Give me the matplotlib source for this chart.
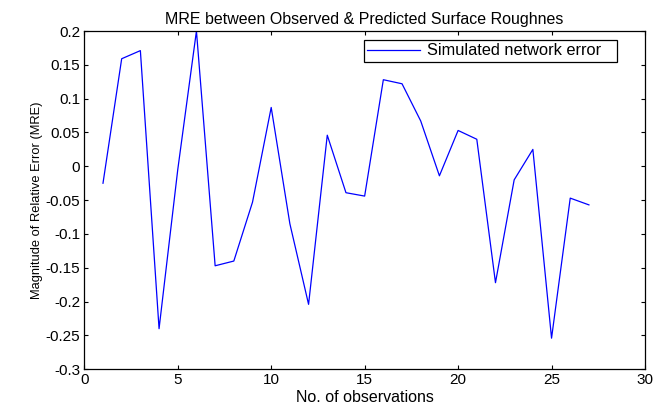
import matplotlib.pyplot as plt

# ── Data ──────────────────────────────────────────────────────────────────────

obs = list(range(1, 28))
mre = [-0.025, 0.159, 0.171, -0.240, -0.005, 0.200, -0.147, -0.140, -0.053,
       0.087, -0.085, -0.204, 0.046, -0.039, -0.044, 0.128, 0.122, 0.067,
       -0.014, 0.053, 0.040, -0.172, -0.020, 0.025, -0.254, -0.047, -0.057]

y_ticks = [-0.3, -0.25, -0.2, -0.15, -0.1, -0.05, 0, 0.05, 0.1, 0.15, 0.2]
y_labels = ["-0.3", "-0.25", "-0.2", "-0.15", "-0.1", "-0.05", "0",
            "0.05", "0.1", "0.15", "0.2"]

plt.rcParams["font.family"] = ["Liberation Sans", "DejaVu Sans"]

# ── Figure ────────────────────────────────────────────────────────────────────

fig = plt.figure(figsize=(6.67, 4.05), dpi=100)
ax = fig.add_axes([84.3 / 667, 1 - 369.3 / 405, (645 - 84.3) / 667, (369.3 - 31) / 405])

ax.plot(obs, mre, color="#0000ff", lw=0.9, label="Simulated network error")

ax.set_xlim(0, 30)
ax.set_ylim(-0.3, 0.2)
ax.set_xticks(range(0, 31, 5))
ax.set_yticks(y_ticks)
ax.set_yticklabels(y_labels)
ax.tick_params(direction="in", top=True, right=True, length=3, width=0.8,
               labelsize=11, pad=3)
for sp in ax.spines.values():
    sp.set_linewidth(0.9)

ax.set_title("MRE between Observed & Predicted Surface Roughnes", fontsize=11.5, pad=5)
ax.set_xlabel("No. of observations", fontsize=11.5, labelpad=2)
ax.set_ylabel("Magnitude of Relative Error (MRE)", fontsize=9.3, labelpad=2)

# legend box spans px 364..617 horizontally, top at px 40
x0 = (364 - 84.3) / 560.7
x1 = (617 - 84.3) / 560.7
ytop = (369.3 - 40) / 338.3
leg = ax.legend(loc="upper left", bbox_to_anchor=(x0, ytop - 0.1, x1 - x0, 0.1),
                mode="expand", fontsize=11.8, fancybox=False, edgecolor="black",
                framealpha=1, handlelength=3.2, borderpad=0.2, handletextpad=0.45,
                borderaxespad=0)
leg.get_frame().set_linewidth(0.9)

fig.savefig("out.png", dpi=100)
